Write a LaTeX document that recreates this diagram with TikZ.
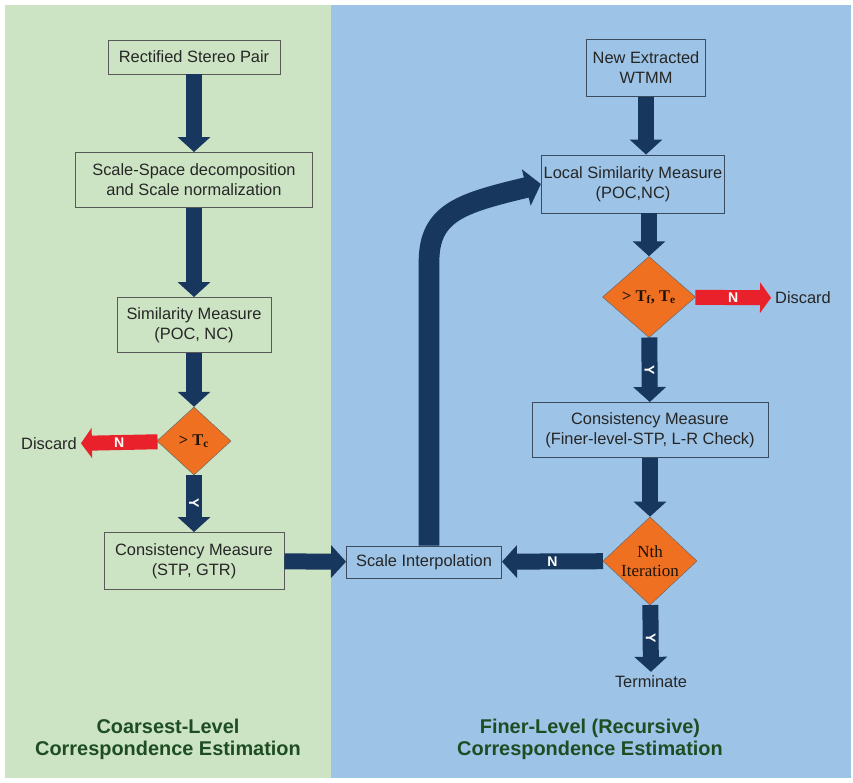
\documentclass[tikz,border=0pt]{standalone}
\usepackage{fontspec}
\setmainfont{Liberation Sans}
\newfontfamily\diafont{Liberation Serif}
\usetikzlibrary{shapes.geometric,arrows.meta}
\definecolor{coarsebg}{HTML}{CCE4C3}
\definecolor{finebg}{HTML}{9DC3E6}
\definecolor{navy}{HTML}{17375E}
\definecolor{slate}{HTML}{3C4C60}
\definecolor{decorange}{HTML}{F07022}
\definecolor{discred}{HTML}{E8212A}
\definecolor{labelgreen}{HTML}{1E4D24}
\tikzset{
  stage/.style={draw=#1, line width=0.8pt, align=center, inner sep=2pt, text=black!85, font=\fontsize{14}{17}\selectfont},
  stage/.default={black!65},
  decide/.style={diamond, draw=black!60, fill=decorange, inner sep=0pt, align=center, text=black!85!brown, font=\diafont\bfseries\fontsize{14}{15}\selectfont},
  flow/.style={draw=navy, line width=0.48cm, -{Triangle[length=0.45cm,width=0.96cm]}},
  reject/.style={draw=discred, line width=0.45cm, -{Triangle[length=0.33cm,width=0.9cm]}},
  yesno/.style={text=white, font=\bfseries\fontsize{12}{12}\selectfont},
  plain/.style={text=black!85, font=\fontsize{14}{17}\selectfont},
  phase/.style={align=center, text=labelgreen, font=\bfseries\fontsize{17}{19}\selectfont},
}
\begin{document}
\begin{tikzpicture}[x=0.03cm,y=-0.03cm]
\useasboundingbox (0,0) rectangle (853,782);
% panels
\fill[coarsebg] (5,5) rectangle (331,778);
\fill[finebg] (331,5) rectangle (851,778);

% coarsest level
\node[stage, minimum width=5.16cm, minimum height=1.02cm] (rsp) at (194,57) {Rectified Stereo Pair};
\node[stage, minimum width=7.11cm, minimum height=1.65cm] (ssd) at (194,180) {Scale-Space decomposition\\and Scale normalization};
\node[stage, minimum width=4.62cm, minimum height=1.65cm] (sim) at (194,325) {Similarity Measure\\(POC, NC)};
\node[decide, minimum width=2.22cm, minimum height=2.04cm] (dc) at (194,441) {> T\textsubscript{c}};
\node[plain] (dl) at (49,444) {Discard};
\node[stage, minimum width=5.4cm, minimum height=1.71cm] (cmc) at (194,561) {Consistency Measure\\(STP, GTR)};

% finer level
\node[stage=slate, minimum width=3.57cm, minimum height=1.71cm] (wtmm) at (646,68) {New Extracted\\WTMM};
\node[stage=slate, minimum width=5.22cm, minimum height=1.74cm] (lsm) at (633,184) {Local Similarity Measure\\(POC,NC)};
\node[decide, minimum width=2.79cm, minimum height=2.43cm] (df) at (649,297) {> T\textsubscript{f}, T\textsubscript{e}};
\node[plain] (dr) at (803,298) {Discard};
\node[stage=slate, minimum width=7.08cm, minimum height=1.65cm] (cmf) at (650,430) {Consistency Measure\\(Finer-level-STP, L-R Check)};
\node[decide, minimum width=2.82cm, minimum height=2.46cm, font=\diafont\fontsize{14.5}{16}\selectfont] (dn) at (650,561) {Nth\\Iteration};
\node[plain] (term) at (651,682) {Terminate};
\node[stage=slate, minimum width=4.65cm, minimum height=0.96cm] (si) at (424,562) {Scale Interpolation};

\node[phase] (lc) at (168,739) {Coarsest-Level\\Correspondence Estimation};
\node[phase] (lf) at (590,739) {Finer-Level (Recursive)\\Correspondence Estimation};

% connectors
\draw[flow] (rsp) -- (ssd);
\draw[flow] (ssd) -- (sim);
\draw[flow] (sim) -- (dc);
\draw[flow] (dc) -- node[yesno, rotate=-90] {Y} (cmc);
\draw[reject] (dc) -- node[yesno] {N} (dl);
\draw[flow] (cmc) -- (si);
\coordinate (bend) at (429,262);
\draw[flow, line width=0.62cm, -{Triangle[length=0.45cm,width=1.1cm]}] (bend |- si.north) -- (bend) .. controls (429,212) and (462,203) .. (lsm.west);
\draw[flow] (wtmm.south) -- (wtmm.south |- lsm.north);
\draw[flow] (df.north |- lsm.south) -- (df.north);
\draw[flow] (df) -- node[yesno, rotate=-90] {Y} (cmf);
\draw[reject] (df) -- node[yesno] {N} (dr);
\draw[flow] (cmf) -- (dn);
\draw[flow] (dn) -- node[yesno, rotate=-90] {Y} (term);
\draw[flow] (dn) -- node[yesno] {N} (si);
\end{tikzpicture}
\end{document}
